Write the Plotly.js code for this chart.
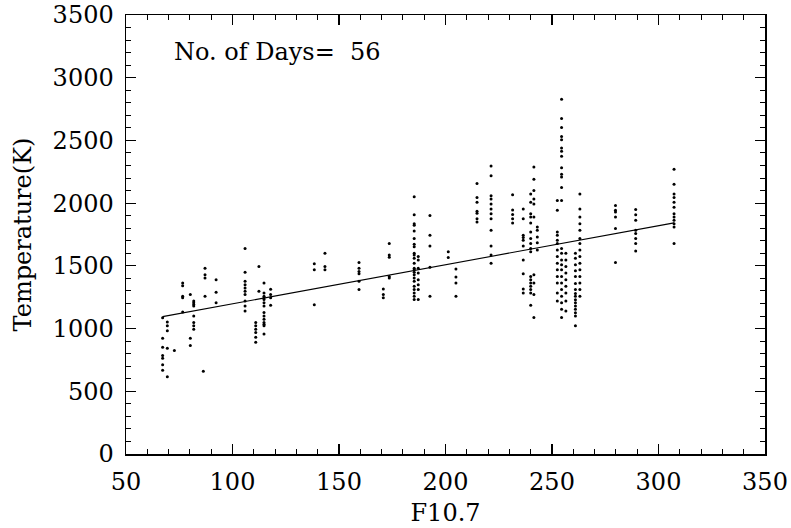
<!DOCTYPE html>
<html>
<head>
<meta charset="utf-8">
<script src="https://cdn.plot.ly/plotly-3.0.1.min.js"></script>
<style>html,body{margin:0;padding:0;background:#fff;}#chart{width:791px;height:528px;}</style>
</head>
<body>
<div id="chart"></div>
<script>
// F10.7 value of each observed column of points
const f107 = [67.2, 69.4, 72.7, 76.6, 80.2, 81.8, 86.3, 87.1, 92.3, 105.9,
  110.9, 112.4, 114.8, 117.9, 138.4, 143.4, 159.4, 170.8, 173.6, 185.3,
  187.2, 192.7, 201.3, 204.9, 214.8, 221.4, 231.5, 236.5, 240.0, 241.5,
  243.1, 252.5, 254.5, 256.5, 261.0, 263.1, 279.8, 289.3, 307.3];
// Temperatures (K) in each column
const temps = [
  [1087, 922, 851, 786, 764, 712, 667],
  [1053, 1022, 982, 843, 615],
  [825],
  [1363, 1342, 1258, 1245, 1132],
  [1272, 922, 864],
  [1219, 1206, 1192, 1179, 1100, 1048, 1022, 995],
  [659],
  [1481, 1429, 1403, 1258],
  [1390, 1290, 1206],
  [1639, 1448, 1377, 1350, 1324, 1298, 1272, 1219, 1179, 1140],
  [1048, 1022, 995, 969, 930, 890],
  [1495, 1298],
  [1363, 1284, 1258, 1245, 1232, 1206, 1179, 1127, 1100, 1074, 1048, 1035, 1022, 956],
  [1314, 1272, 1245, 1185],
  [1516, 1469, 1190],
  [1600, 1495, 1469],
  [1526, 1481, 1455, 1437, 1377, 1311],
  [1316, 1272, 1245],
  [1679, 1587, 1568, 1416, 1403],
  [2052, 1907, 1836, 1823, 1778, 1718, 1673, 1652, 1600, 1587, 1560, 1521, 1481, 1469, 1448, 1429, 1403, 1377, 1337, 1311, 1284, 1258, 1232],
  [1574, 1547, 1481, 1442, 1390, 1350, 1311, 1232],
  [1902, 1745, 1658, 1489, 1258],
  [1613, 1566],
  [1474, 1411, 1363, 1258],
  [2157, 2046, 2007, 1936, 1920, 1876, 1849],
  [2297, 2218, 2060, 2033, 1994, 1954, 1915, 1876, 1784, 1658, 1587, 1521],
  [2067, 1946, 1909, 1876, 1841],
  [1954, 1876, 1745, 1726, 1705, 1658, 1547, 1437, 1316, 1284],
  [2072, 2007, 1915, 1889, 1841, 1770, 1718, 1679, 1639, 1613, 1416, 1390, 1363, 1337, 1311, 1284, 1185],
  [2289, 2191, 2100, 2033, 1994, 1889, 1429, 1363, 1272, 1088],
  [1810, 1784, 1731, 1684, 1626],
  [2022, 1943, 1770, 1745, 1705, 1679, 1626, 1574, 1521, 1469, 1416, 1363, 1284, 1219],
  [2829, 2676, 2603, 2532, 2506, 2440, 2414, 2374, 2283, 2230, 2209, 2125, 2022, 1639, 1600, 1547, 1508, 1469, 1416, 1363, 1311, 1258, 1206, 1153, 1088],
  [1600, 1547, 1495, 1442, 1390, 1337, 1284, 1219, 1140],
  [1600, 1560, 1508, 1460, 1416, 1360, 1311, 1280, 1258, 1230, 1206, 1180, 1153, 1125, 1100, 1022],
  [2072, 1954, 1889, 1836, 1784, 1718, 1679, 1626, 1574, 1521, 1469, 1416, 1363, 1311, 1258],
  [1981, 1943, 1929, 1889, 1797, 1526],
  [1950, 1907, 1863, 1784, 1758, 1718, 1679, 1618],
  [2270, 2151, 2072, 2046, 2007, 1968, 1915, 1889, 1863, 1836, 1810, 1679]
];
// Fitted line end points
const lineX = [67.2, 307.3];
const lineY = [1095, 1843];
// Tick labels
const xTicks = [50, 100, 150, 200, 250, 300, 350];
const yTicks = [0, 500, 1000, 1500, 2000, 2500, 3000, 3500];
const daysLabel = "No. of Days=\u00a0\u00a056";

const ptsX = [], ptsY = [];
f107.forEach((fx, i) => temps[i].forEach(t => { ptsX.push(fx); ptsY.push(t); }));

const font = {family: "DejaVu Serif, serif", color: "#000", size: 24};
const data = [
  {x: ptsX, y: ptsY, type: "scatter", mode: "markers",
   marker: {color: "#000", size: 3}, hoverinfo: "x+y"},
  {x: lineX, y: lineY, type: "scatter", mode: "lines",
   line: {color: "#000", width: 1.1}}
];
const axisCommon = {
  showgrid: false, zeroline: false, showline: true, linecolor: "#000", linewidth: 1.5,
  mirror: "allticks", ticks: "inside", ticklen: 10, tickwidth: 1.2, tickcolor: "#000",
  tickfont: font, tickmode: "array", ticklabeloverflow: "allow"
};
const layout = {
  width: 791, height: 528, showlegend: false,
  paper_bgcolor: "#fff", plot_bgcolor: "#fff",
  margin: {l: 126, r: 26, t: 15, b: 74},
  font: font,
  xaxis: Object.assign({}, axisCommon, {
    range: [50, 350], tickvals: xTicks, ticktext: xTicks.map(String),
    minor: {dtick: 10, tick0: 50, ticks: "inside", ticklen: 5, tickcolor: "#000", tickwidth: 1},
    ticklabelstandoff: 6,
    title: {text: "F10.7", font: font, standoff: 9}
  }),
  yaxis: Object.assign({}, axisCommon, {
    range: [-0.5, 3500.5], tickvals: yTicks, ticktext: yTicks.map(String),
    minor: {dtick: 100, tick0: 0, ticks: "inside", ticklen: 5, tickcolor: "#000", tickwidth: 1},
    ticklabelstandoff: 6,
    title: {text: "Temperature(K)", font: font, standoff: 14}
  }),
  annotations: [{
    text: daysLabel, xref: "paper", yref: "paper", x: 0.072, y: 0.915,
    xanchor: "left", yanchor: "middle", showarrow: false, font: font
  }]
};
Plotly.newPlot("chart", data, layout, {displayModeBar: false, staticPlot: true});
</script>
</body>
</html>
